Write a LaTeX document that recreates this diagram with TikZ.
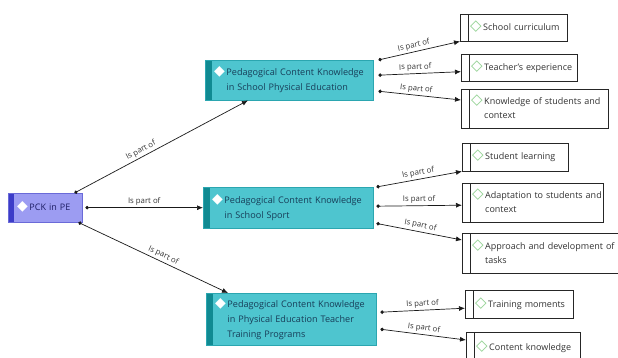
\documentclass[tikz,border=0pt]{standalone}
\usepackage{fontspec}
\setmainfont{Open Sans}
\newfontfamily\dejavu{DejaVu Sans}
\usetikzlibrary{arrows.meta}

\definecolor{rootfill}{HTML}{9C9CF2}
\definecolor{rootbar}{HTML}{3C3CC8}
\definecolor{rootline}{HTML}{6A6AD8}
\definecolor{topicfill}{HTML}{4EC5CF}
\definecolor{topicbar}{HTML}{108A92}
\definecolor{topicline}{HTML}{2BA6B0}
\definecolor{topictext}{HTML}{173D58}
\definecolor{leafdia}{HTML}{8CCF8C}
\definecolor{leaftext}{HTML}{333333}

\newcommand{\wdia}{{\dejavu\fontsize{14}{14}\selectfont\textcolor{white}{◆}}}
\newcommand{\gdia}{{\dejavu\fontsize{15}{14}\selectfont\textcolor{leafdia}{◇}}}
\newcommand{\dlines}[2]{#1\,\begin{tabular}[t]{@{}l@{}}#2\end{tabular}}

\tikzset{
  boxbase/.style={anchor=north west, align=left, inner ysep=2pt},
  rootbox/.style={boxbase, fill=rootfill, draw=rootline, inner xsep=9pt,
    text=rootbar!50!black, font=\fontsize{9}{14}\selectfont,
    path picture={\fill[rootbar] (path picture bounding box.north west)
      rectangle ([xshift=6pt]path picture bounding box.south west);}},
  topic/.style={boxbase, fill=topicfill, draw=topicline, inner xsep=9pt,
    text=topictext, font=\fontsize{9.1}{15}\selectfont,
    path picture={\fill[topicbar] (path picture bounding box.north west)
      rectangle ([xshift=7pt]path picture bounding box.south west);}},
  leaf/.style={boxbase, fill=white, draw=black!85, inner xsep=10pt,
    text=leaftext, font=\fontsize{9}{14}\selectfont,
    path picture={\draw[black!85] ([xshift=8pt]path picture bounding box.north west)
      -- ([xshift=8pt]path picture bounding box.south west);}},
  link/.style={{Circle[length=3.5pt]}-{Latex[length=6pt,width=5pt]}, black!90, line width=.7pt},
  rel/.style={above, sloped, inner sep=2pt, text=leaftext, font=\fontsize{7.8}{9}\selectfont}
}

\begin{document}
\begin{tikzpicture}[x=1pt,y=1pt]
\useasboundingbox (0,0) rectangle (618,-358);

% boxes
\node[rootbox, text width=56pt, minimum height=29pt] (pck) at (8,-193) {\dlines{\wdia}{PCK in PE}};

\node[topic, text width=150pt, minimum height=40pt] (school) at (205,-60)
  {\dlines{\wdia}{Pedagogical Content Knowledge\\in School Physical Education}};
\node[topic, text width=152pt, minimum height=41pt] (sport) at (203,-187)
  {\dlines{\wdia}{Pedagogical Content Knowledge\\in School Sport}};
\node[topic, text width=152pt, minimum height=52pt] (training) at (206,-293)
  {\dlines{\wdia}{Pedagogical Content Knowledge\\in Physical Education Teacher\\Training Programs}};

\node[leaf, text width=87pt, minimum height=27pt] (curric) at (460,-14) {\dlines{\gdia}{School curriculum}};
\node[leaf, text width=96pt, minimum height=27pt] (exper) at (461,-54) {\dlines{\gdia}{Teacher's experience}};
\node[leaf, text width=127pt, minimum height=39pt] (knows) at (461,-89)
  {\dlines{\gdia}{Knowledge of students and\\context}};
\node[leaf, text width=86pt, minimum height=28pt] (learn) at (462,-143) {\dlines{\gdia}{Student learning}};
\node[leaf, text width=121pt, minimum height=39pt] (adapt) at (462,-183)
  {\dlines{\gdia}{Adaptation to students and\\context}};
\node[leaf, text width=136pt, minimum height=40pt] (tasks) at (462,-233)
  {\dlines{\gdia}{Approach and development of\\tasks}};
\node[leaf, text width=88pt, minimum height=28pt] (moments) at (465,-290) {\dlines{\gdia}{Training moments}};
\node[leaf, text width=94pt, minimum height=30pt] (content) at (466,-332) {\dlines{\gdia}{Content knowledge}};

% root links
\draw[link] ([xshift=-8pt]pck.north east) -- node[rel, pos=.4] {Is part of} ([xshift=43pt]school.south west);
\draw[link] ([xshift=3pt]pck.east) -- node[rel, pos=.5] {Is part of} (sport.west);
\draw[link] ([xshift=-4pt]pck.south east) -- node[rel, pos=.55] {Is part of} ([xshift=22pt]training.north west);

% school links
\draw[link] ([xshift=5pt]school.north east) -- node[rel, pos=.45] {Is part of} (curric.south west);
\draw[link] ([xshift=5pt,yshift=5pt]school.east) -- node[rel, pos=.45] {Is part of} ([yshift=-4pt]exper.west);
\draw[link] ([xshift=5pt,yshift=-11pt]school.east) -- node[rel, pos=.45] {Is part of} ([yshift=-11pt]knows.north west);

% sport links
\draw[link] ([xshift=3pt]sport.north east) -- node[rel, pos=.5] {Is part of} (learn.south west);
\draw[link] ([xshift=3pt,yshift=1.5pt]sport.east) -- node[rel, pos=.5] {Is part of} ([yshift=-2.5pt]adapt.west);
\draw[link] ([xshift=3pt,yshift=5pt]sport.south east) -- node[rel, pos=.5] {Is part of} ([yshift=-7pt]tasks.north west);

% training links
\draw[link] ([xshift=4pt,yshift=7pt]training.east) -- node[rel, pos=.5] {Is part of} ([yshift=-4pt]moments.west);
\draw[link] ([xshift=4pt,yshift=-10pt]training.east) -- node[rel, pos=.5] {Is part of} ([yshift=-8pt]content.north west);
\end{tikzpicture}
\end{document}
